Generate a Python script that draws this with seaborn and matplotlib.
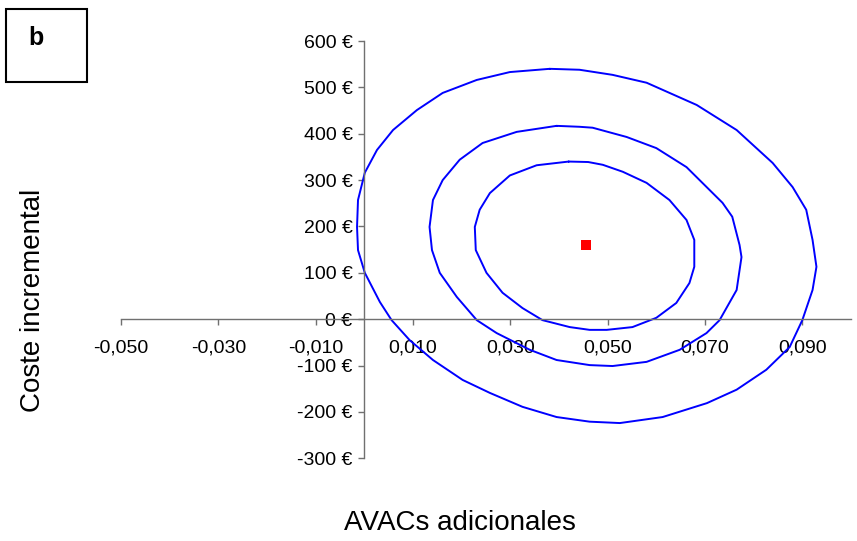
import matplotlib
matplotlib.use('Agg')
import matplotlib.pyplot as plt
import numpy as np
import pandas as pd
import seaborn as sns
from matplotlib.ticker import FixedLocator, FuncFormatter
from matplotlib.patches import Rectangle

# Contornos (AVACs adicionales, coste incremental en €)
outer_x = [0.0381, 0.0299, 0.0231, 0.0161, 0.0108, 0.0059, 0.0026, 0.0001, -0.0013, -0.0015,
           -0.0013, 0.0001, 0.0032, 0.0056, 0.0093, 0.0141, 0.0202, 0.0258, 0.0325, 0.0395,
           0.0463, 0.0525, 0.0613, 0.0704, 0.0765, 0.0826, 0.0874, 0.0900, 0.0921, 0.0929,
           0.0921, 0.0908, 0.0880, 0.0839, 0.0765, 0.0683, 0.0580, 0.0510, 0.0442]
outer_y = [540, 533, 516, 488, 451, 408, 365, 316, 257, 199,
           149, 100, 37, -2, -45, -88, -131, -159, -189, -211,
           -221, -224, -211, -181, -152, -109, -60, -2, 63, 113,
           171, 236, 285, 337, 408, 462, 510, 527, 538]

middle_x = [0.0395, 0.0313, 0.0243, 0.0196, 0.0161, 0.0141, 0.0134, 0.0139, 0.0155, 0.0190,
            0.0231, 0.0272, 0.0340, 0.0395, 0.0463, 0.0510, 0.0580, 0.0648, 0.0703, 0.0730,
            0.0765, 0.0775, 0.0771, 0.0756, 0.0736, 0.0662, 0.0600, 0.0539, 0.0469, 0.0442]
middle_y = [417, 404, 380, 344, 300, 257, 199, 149, 100, 48,
            -2, -30, -66, -88, -99, -101, -92, -66, -30, -2,
            63, 134, 160, 221, 251, 328, 369, 393, 413, 415]

inner_x = [0.0420, 0.0354, 0.0299, 0.0258, 0.0237, 0.0227, 0.0229, 0.0251, 0.0284, 0.0325,
           0.0366, 0.0422, 0.0463, 0.0498, 0.0551, 0.0600, 0.0641, 0.0668, 0.0678, 0.0678,
           0.0662, 0.0627, 0.0580, 0.0531, 0.0490, 0.0460]
inner_y = [340, 332, 310, 272, 236, 199, 149, 100, 57, 24,
           -2, -17, -23, -23, -17, 3, 35, 78, 113, 171,
           214, 257, 294, 318, 333, 339]

centre_x = [0.0455]
centre_y = [160]

x_ticks = [-0.05, -0.03, -0.01, 0.01, 0.03, 0.05, 0.07, 0.09]
y_ticks = [-300, -200, -100, 0, 100, 200, 300, 400, 500, 600]


def closed(xs, ys, name):
    # cierra el contorno repitiendo el primer punto
    return pd.DataFrame({'x': xs + xs[:1], 'y': ys + ys[:1], 'contorno': name,
                         'orden': np.arange(len(xs) + 1)})


df = pd.concat([closed(outer_x, outer_y, 'exterior'),
                closed(middle_x, middle_y, 'medio'),
                closed(inner_x, inner_y, 'interior')], ignore_index=True)

sns.set_style('white')
plt.rcParams['font.family'] = ['Liberation Sans', 'DejaVu Sans']
plt.rcParams['text.color'] = 'black'

fig = plt.figure(figsize=(8.57, 5.41), dpi=100)
ax = fig.add_axes([121 / 857, (541 - 458.3) / 541, 730 / 857, 417.3 / 541])

sns.lineplot(data=df, x='x', y='y', units='contorno', estimator=None, sort=False,
             color='#0000ff', linewidth=1.4, solid_capstyle='round',
             solid_joinstyle='round', ax=ax)
sns.scatterplot(x=centre_x, y=centre_y, marker='s', color='#ff0000', s=55,
                edgecolor='none', ax=ax, zorder=5)

ax.set_xlim(-0.05, 0.1)
ax.set_ylim(-300, 600)

axis_col = '#707070'
for side in ['top', 'right']:
    ax.spines[side].set_visible(False)
for side in ['left', 'bottom']:
    ax.spines[side].set_position(('data', 0))
    ax.spines[side].set_color(axis_col)
    ax.spines[side].set_linewidth(1.0)

ax.xaxis.set_major_locator(FixedLocator(x_ticks))
ax.yaxis.set_major_locator(FixedLocator(y_ticks))
ax.xaxis.set_major_formatter(FuncFormatter(lambda v, p: f"{v:.3f}".replace('.', ',')))
ax.yaxis.set_major_formatter(FuncFormatter(lambda v, p: f"{int(round(v))} €"))
ax.tick_params(axis='x', bottom=True, direction='out', length=4.5, width=1,
               color=axis_col, pad=10, labelsize=14, labelcolor='black')
ax.tick_params(axis='y', left=True, direction='out', length=4.5, width=1,
               color=axis_col, pad=4, labelsize=14, labelcolor='black')
ax.set_xlabel('')
ax.set_ylabel('')

fig.text(460 / 857, 1 - 523 / 541, 'AVACs adicionales', ha='center', va='center', fontsize=20)
fig.text(33 / 857, 1 - 300 / 541, 'Coste incremental', ha='center', va='center',
         rotation=90, fontsize=20)

fig.patches.append(Rectangle((6 / 857, 1 - 82 / 541), 81 / 857, 73 / 541,
                             transform=fig.transFigure, fill=False,
                             edgecolor='black', linewidth=1.5))
fig.text(36 / 857, 1 - 38 / 541, 'b', ha='center', va='center', fontsize=18,
         fontweight='bold')

fig.savefig('out.png', dpi=100)
